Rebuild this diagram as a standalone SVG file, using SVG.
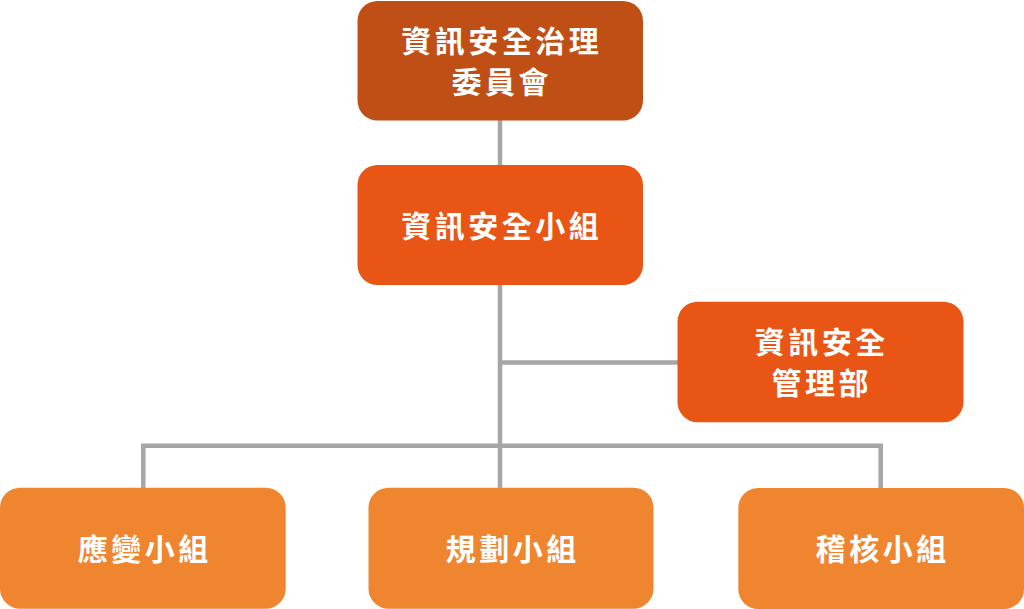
<svg xmlns="http://www.w3.org/2000/svg" width="1024" height="609" viewBox="0 0 1024 609">
<style>
.t{fill:#FFFFFF;font-family:"Noto Sans CJK TC","Noto Sans CJK SC",sans-serif;font-weight:bold;font-size:30px;letter-spacing:3.5px;text-anchor:middle}
.c{stroke:#A6A6A6;stroke-width:4.5;fill:none}
.l1{fill:#C04F15}
.l2{fill:#E85515}
.l3{fill:#F0852F}
</style>
<rect width="1024" height="609" fill="#FFFFFF"/>
<g id="connectors">
<line class="c" x1="500" y1="120" x2="500" y2="166"/>
<line class="c" x1="500" y1="284" x2="500" y2="489"/>
<line class="c" x1="500" y1="362.5" x2="679" y2="362.5"/>
<polyline class="c" points="143.3,489 143.3,445.7 880.7,445.7 880.7,489"/>
</g>
<g id="n1"><rect class="l1" x="357.5" y="1" width="285.5" height="119.5" rx="20"/>
<text class="t" x="501.7" y="51.5">資訊安全治理</text><text class="t" x="501.7" y="92.5">委員會</text></g>
<g id="n2"><rect class="l2" x="357.5" y="165" width="285.5" height="120" rx="20"/>
<text class="t" x="501.7" y="236.5">資訊安全小組</text></g>
<g id="n3"><rect class="l2" x="677.5" y="301.7" width="286" height="120.5" rx="20"/>
<text class="t" x="821.7" y="352.5">資訊安全</text><text class="t" x="821.7" y="393.5">管理部</text></g>
<g id="n4"><rect class="l3" x="0" y="487.7" width="285.7" height="121" rx="20"/>
<text class="t" x="144.7" y="559.5">應變小組</text></g>
<g id="n5"><rect class="l3" x="368.5" y="487.7" width="285" height="121" rx="20"/>
<text class="t" x="512.7" y="559.5">規劃小組</text></g>
<g id="n6"><rect class="l3" x="738.3" y="488" width="285.7" height="121" rx="20"/>
<text class="t" x="882.7" y="559.5">稽核小組</text></g>
</svg>
